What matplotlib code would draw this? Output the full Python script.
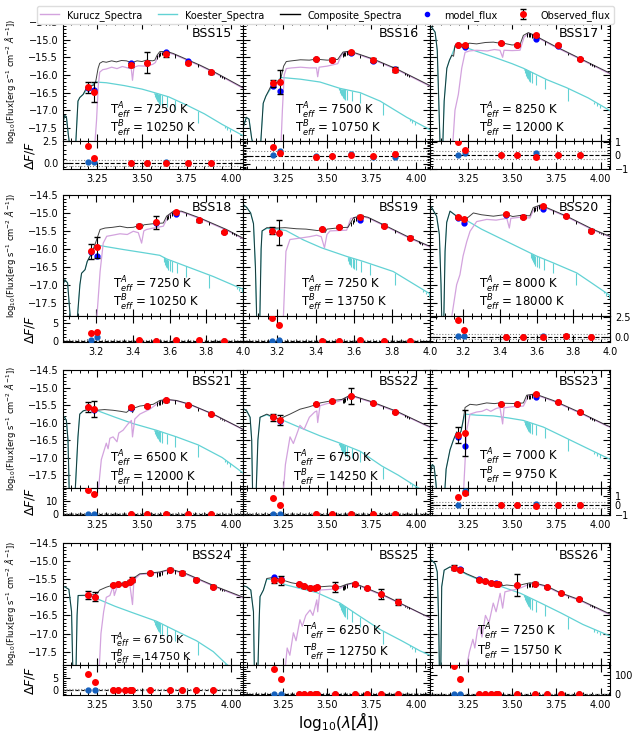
import numpy as np
import matplotlib.pyplot as plt
from matplotlib.lines import Line2D
from matplotlib.ticker import MultipleLocator, AutoMinorLocator, FixedLocator

KURUCZ_C = '#d3a3de'
KOESTER_C = '#62d2d4'

# photometric band centres, log10(lambda / A)
wave_r1 = [3.195, 3.232, 3.44, 3.53, 3.635, 3.76, 3.885]
wave_r2 = [3.17, 3.207, 3.435, 3.525, 3.635, 3.76, 3.895]
wave_r4 = [3.198, 3.238, 3.34, 3.368, 3.405, 3.432, 3.445, 3.545, 3.655, 3.725, 3.805, 3.9]
wave_bss26 = [3.173, 3.207, 3.316, 3.348, 3.38, 3.41, 3.423, 3.526, 3.63, 3.699, 3.774, 3.88]

# hydrogen lines in the hot component and in the composite
koe_line_x = [3.568, 3.572, 3.577, 3.582, 3.588, 3.594, 3.600, 3.613, 3.638, 3.687, 3.817, 3.965, 3.98, 3.995]
koe_line_depth = [0.05, 0.12, 0.18, 0.22, 0.25, 0.28, 0.3, 0.3, 0.3, 0.3, 0.35, 0.06, 0.08, 0.1]
comp_line_x = [3.587, 3.594, 3.600, 3.613, 3.638, 3.687, 3.817, 3.94, 3.95, 3.96]
comp_line_depth = [0.12, 0.12, 0.12, 0.1, 0.1, 0.1, 0.08, 0.04, 0.05, 0.05]

# ---- BSS15
bss15_obs = [-16.35, -16.48, -15.72, -15.65, -15.41, -15.65, -15.93]
bss15_err = [0.16, 0.28, 0.05, 0.3, 0.07, 0.03, 0.03]
bss15_mod = [-16.38, -16.42, -15.66, -15.65, -15.36, -15.61, -15.93]
bss15_dobs = [1.9, 0.53, -0.06, 0.0, -0.06, 0.0, 0.0]
bss15_dmod = [0.05, 0.05, 0.0, 0.0, 0.05, 0.0, 0.0]
bss15_comp = [(3.057, -17.35), (3.066, -17.15), (3.076, -17.18), (3.087, -17.7), (3.095, -18.0), (3.128, -18.0),
              (3.141, -16.74), (3.151, -16.64), (3.17, -16.55), (3.184, -16.41), (3.203, -16.32), (3.226, -16.3),
              (3.24, -16.2), (3.254, -15.81), (3.263, -15.67), (3.28, -15.62), (3.30, -15.64), (3.33, -15.6),
              (3.357, -15.63), (3.385, -15.59), (3.413, -15.6), (3.441, -15.65), (3.447, -15.74), (3.455, -15.63),
              (3.473, -15.6), (3.5, -15.62), (3.525, -15.58), (3.56, -15.6), (3.572, -15.58), (3.585, -15.44),
              (3.60, -15.34), (3.638, -15.33), (3.675, -15.39), (3.825, -15.72), (3.919, -15.95), (4.068, -16.36)]
bss15_kur = [(3.235, -18.0), (3.245, -17.3), (3.255, -16.3), (3.263, -15.92), (3.28, -15.85), (3.30, -15.83),
             (3.33, -15.78), (3.36, -15.82), (3.39, -15.76), (3.42, -15.8), (3.44, -15.82), (3.447, -16.15),
             (3.455, -15.78), (3.48, -15.74), (3.52, -15.75), (3.56, -15.7), (3.575, -15.65), (3.59, -15.48),
             (3.61, -15.38), (3.638, -15.36), (3.675, -15.41), (3.825, -15.74), (3.919, -15.97), (4.068, -16.38)]
bss15_koe = [(3.057, -17.35), (3.066, -17.15), (3.076, -17.18), (3.087, -17.7), (3.095, -18.0), (3.128, -18.0),
             (3.141, -16.74), (3.151, -16.64), (3.17, -16.55), (3.184, -16.45), (3.203, -16.38), (3.226, -16.25),
             (3.24, -16.2), (3.3, -16.22), (3.4, -16.3), (3.5, -16.4), (3.57, -16.5), (3.65, -16.62),
             (3.75, -16.85), (3.85, -17.1), (3.95, -17.4), (4.068, -17.72)]

# ---- BSS16
bss16_obs = [-16.23, -16.2, -15.55, -15.57, -15.36, -15.57, -15.85]
bss16_err = [0.1, 0.35, 0.04, 0.04, 0.04, 0.06, 0.07]
bss16_mod = [-16.3, -16.45, -15.56, -15.57, -15.38, -15.6, -15.83]
bss16_dobs = [0.54, 0.15, -0.05, -0.03, 0.05, 0.0, 0.1]
bss16_dmod = [0.04, 0.3, 0.0, 0.0, 0.1, -0.1, -0.05]
bss16_comp = [(3.026, -17.5), (3.045, -17.2), (3.06, -17.25), (3.075, -17.8), (3.085, -18.0), (3.125, -18.0),
              (3.14, -16.8), (3.155, -16.6), (3.18, -16.35), (3.2, -16.25), (3.225, -16.2), (3.24, -16.08),
              (3.255, -15.75), (3.27, -15.62), (3.3, -15.6), (3.35, -15.57), (3.4, -15.58), (3.44, -15.55),
              (3.447, -15.65), (3.455, -15.56), (3.5, -15.58), (3.535, -15.57), (3.56, -15.56), (3.575, -15.45),
              (3.59, -15.35), (3.62, -15.33), (3.65, -15.36), (3.761, -15.55), (3.893, -15.83), (4.08, -16.3)]
bss16_kur = [(3.24, -18.0), (3.248, -17.0), (3.258, -16.0), (3.27, -15.82), (3.3, -15.8), (3.35, -15.78),
             (3.4, -15.8), (3.44, -15.8), (3.447, -16.05), (3.455, -15.78), (3.5, -15.75), (3.56, -15.68),
             (3.575, -15.5), (3.59, -15.38), (3.62, -15.35), (3.65, -15.38), (3.761, -15.57), (3.893, -15.85),
             (4.08, -16.32)]
bss16_koe = [(3.026, -17.5), (3.045, -17.2), (3.06, -17.25), (3.075, -17.8), (3.085, -18.0), (3.125, -18.0),
             (3.14, -16.8), (3.155, -16.6), (3.18, -16.4), (3.2, -16.3), (3.225, -16.15), (3.24, -16.07),
             (3.35, -16.12), (3.46, -16.2), (3.573, -16.38), (3.686, -16.5), (3.799, -16.74), (3.949, -17.2),
             (4.08, -17.55)]

# ---- BSS17
bss17_obs = [-15.16, -15.16, -15.09, -15.14, -14.88, -15.16, -15.55]
bss17_err = [0.03, 0.04, 0.03, 0.03, 0.04, 0.03, 0.03]
bss17_mod = [-15.16, -15.2, -15.1, -15.14, -14.99, -15.18, -15.55]
bss17_dobs = [0.98, 0.36, 0.0, 0.0, -0.1, 0.0, 0.0]
bss17_dmod = [0.0, 0.18, 0.0, 0.0, 0.18, 0.0, 0.0]
bss17_comp = [(3.037, -14.6), (3.047, -14.65), (3.066, -14.79), (3.078, -15.3), (3.088, -17.0), (3.094, -18.0),
              (3.109, -18.0), (3.117, -16.74), (3.132, -15.81), (3.147, -15.58), (3.16, -15.44), (3.17, -15.47),
              (3.178, -15.16), (3.2, -15.14), (3.226, -15.14), (3.26, -15.1), (3.3, -15.12), (3.35, -15.08),
              (3.395, -15.07), (3.43, -15.1), (3.442, -15.14), (3.45, -15.1), (3.5, -15.15), (3.545, -15.14),
              (3.564, -14.88), (3.592, -14.8), (3.62, -14.86), (3.733, -15.16), (3.883, -15.53), (4.053, -15.95)]
bss17_kur = [(3.165, -18.0), (3.178, -17.0), (3.197, -16.55), (3.216, -15.81), (3.235, -15.36), (3.26, -15.32),
             (3.3, -15.3), (3.36, -15.32), (3.4, -15.28), (3.432, -15.3), (3.447, -15.5), (3.455, -15.3),
             (3.5, -15.31), (3.545, -15.3), (3.568, -14.93), (3.592, -14.83), (3.62, -14.88), (3.733, -15.18),
             (3.883, -15.55), (4.053, -15.97)]
bss17_koe = [(3.037, -14.6), (3.047, -14.65), (3.066, -14.79), (3.078, -15.3), (3.088, -17.0), (3.094, -18.0),
             (3.109, -18.0), (3.117, -16.74), (3.132, -15.81), (3.147, -15.58), (3.16, -15.44), (3.178, -15.2),
             (3.226, -15.2), (3.3, -15.33), (3.4, -15.5), (3.5, -15.68), (3.564, -15.81), (3.695, -16.13),
             (3.808, -16.36), (3.93, -16.65), (4.053, -17.01)]

# ---- BSS18
bss18_obs = [-16.07, -15.96, -15.35, -15.26, -14.98, -15.21, -15.54]
bss18_err = [0.2, 0.3, 0.04, 0.18, 0.03, 0.04, 0.03]
bss18_mod = [-16.09, -16.21, -15.37, -15.28, -15.04, -15.21, -15.54]
bss18_dobs = [2.3, 2.5, 0.2, 0.0, 0.1, 0.1, 0.0]
bss18_dmod = [0.2, 1.1, 0.0, 0.0, 0.0, 0.0, 0.0]
bss18_comp = [(3.02, -17.0), (3.03, -16.86), (3.045, -16.95), (3.061, -18.0), (3.097, -18.0), (3.112, -17.0),
              (3.121, -16.68), (3.14, -16.58), (3.152, -16.35), (3.176, -16.12), (3.194, -15.88), (3.222, -15.46),
              (3.249, -15.42), (3.29, -15.4), (3.33, -15.37), (3.37, -15.41), (3.403, -15.4), (3.439, -15.34),
              (3.45, -15.42), (3.46, -15.33), (3.511, -15.3), (3.566, -15.28), (3.584, -15.09), (3.621, -14.95),
              (3.665, -14.95), (3.766, -15.14), (3.91, -15.46), (4.0, -15.7)]
bss18_kur = [(3.203, -18.0), (3.222, -16.63), (3.239, -15.84), (3.258, -15.65), (3.29, -15.62), (3.33, -15.58),
             (3.37, -15.6), (3.403, -15.51), (3.43, -15.55), (3.448, -15.84), (3.46, -15.5), (3.475, -15.46),
             (3.511, -15.42), (3.566, -15.37), (3.593, -15.09), (3.621, -14.97), (3.665, -14.97), (3.766, -15.16),
             (3.91, -15.48), (4.0, -15.72)]
bss18_koe = [(3.02, -17.0), (3.03, -16.86), (3.045, -16.95), (3.061, -18.0), (3.097, -18.0), (3.112, -17.0),
             (3.121, -16.68), (3.14, -16.58), (3.152, -16.35), (3.176, -16.12), (3.194, -15.95), (3.222, -15.91),
             (3.35, -16.02), (3.45, -16.1), (3.547, -16.18), (3.584, -16.28), (3.693, -16.49), (3.838, -16.77),
             (3.965, -17.05), (4.0, -17.12)]

# ---- BSS19
bss19_obs = [-15.49, -15.55, -15.44, -15.4, -15.1, -15.35, -15.69]
bss19_err = [0.1, 0.35, 0.03, 0.03, 0.04, 0.03, 0.04]
bss19_mod = [-15.5, -15.55, -15.44, -15.4, -15.2, -15.35, -15.69]
bss19_dobs = [6.3, 4.5, 0.0, 0.0, 0.1, 0.0, 0.0]
bss19_dmod = [0.0, 0.3, 0.0, 0.0, 0.0, 0.0, 0.0]
bss19_comp = [(3.02, -14.76), (3.04, -14.85), (3.06, -15.0), (3.075, -15.3), (3.085, -16.5), (3.092, -18.0),
              (3.108, -18.0), (3.115, -16.0), (3.12, -15.5), (3.145, -15.41), (3.2, -15.42), (3.24, -15.41),
              (3.3, -15.44), (3.35, -15.45), (3.41, -15.49), (3.441, -15.46), (3.45, -15.55), (3.46, -15.45),
              (3.528, -15.41), (3.57, -15.4), (3.6, -15.13), (3.64, -15.08), (3.675, -15.12), (3.773, -15.37),
              (3.895, -15.69), (4.0, -15.93)]
bss19_kur = [(3.231, -18.0), (3.245, -16.07), (3.266, -15.74), (3.319, -15.7), (3.37, -15.66), (3.406, -15.62),
             (3.43, -15.66), (3.447, -15.97), (3.46, -15.6), (3.476, -15.5), (3.563, -15.48), (3.585, -15.15),
             (3.64, -15.1), (3.675, -15.14), (3.773, -15.39), (3.895, -15.71), (4.0, -15.95)]
bss19_koe = [(3.02, -14.76), (3.04, -14.85), (3.06, -15.0), (3.075, -15.3), (3.085, -16.5), (3.092, -18.0),
             (3.108, -18.0), (3.115, -16.0), (3.12, -15.5), (3.145, -15.43), (3.2, -15.45), (3.245, -15.49),
             (3.336, -15.75), (3.431, -15.97), (3.563, -16.21), (3.65, -16.35), (3.807, -16.63), (3.98, -17.19),
             (4.0, -17.25)]

# ---- BSS20
bss20_obs = [-15.12, -15.16, -15.04, -15.1, -14.81, -15.09, -15.49]
bss20_err = [0.03, 0.03, 0.03, 0.03, 0.03, 0.03, 0.03]
bss20_mod = [-15.13, -15.28, -15.05, -15.1, -14.9, -15.09, -15.49]
bss20_dobs = [2.1, 0.84, 0.0, 0.0, 0.0, 0.05, -0.05]
bss20_dmod = [0.1, 0.1, 0.0, 0.0, 0.15, 0.05, 0.0]
bss20_comp = [(3.02, -14.8), (3.029, -14.85), (3.056, -15.09), (3.071, -15.6), (3.08, -17.0), (3.084, -18.0),
              (3.095, -18.0), (3.102, -16.07), (3.111, -15.26), (3.129, -14.95), (3.165, -15.09), (3.201, -15.16),
              (3.228, -15.12), (3.256, -15.0), (3.3, -15.05), (3.365, -15.09), (3.438, -15.04), (3.47, -15.1),
              (3.51, -15.07), (3.564, -15.08), (3.582, -14.85), (3.619, -14.78), (3.655, -14.85), (3.764, -15.09),
              (3.909, -15.46), (4.0, -15.65)]
bss20_kur = [(3.135, -18.0), (3.15, -17.5), (3.165, -17.0), (3.183, -16.72), (3.2, -16.2), (3.22, -15.8),
             (3.238, -15.51), (3.274, -15.24), (3.329, -15.18), (3.38, -15.2), (3.438, -15.15), (3.452, -15.42),
             (3.46, -15.15), (3.51, -15.12), (3.564, -15.14), (3.582, -14.93), (3.619, -14.8), (3.655, -14.87),
             (3.764, -15.11), (3.909, -15.48), (4.0, -15.67)]
bss20_koe = [(3.02, -14.8), (3.029, -14.85), (3.056, -15.09), (3.071, -15.6), (3.08, -17.0), (3.084, -18.0),
             (3.095, -18.0), (3.102, -16.07), (3.111, -15.26), (3.129, -14.95), (3.165, -15.09), (3.183, -15.1),
             (3.3, -15.45), (3.42, -15.75), (3.528, -16.02), (3.6, -16.2), (3.691, -16.39), (3.819, -16.67),
             (3.9, -16.95), (4.0, -17.3)]

# ---- BSS21
bss21_obs = [-15.56, -15.62, -15.57, -15.53, -15.37, -15.51, -15.76]
bss21_err = [0.14, 0.23, 0.03, 0.03, 0.03, 0.03, 0.03]
bss21_mod = [-15.56, -15.65, -15.58, -15.53, -15.35, -15.51, -15.76]
bss21_dobs = [18.9, 16.0, 0.0, 0.0, 0.0, 0.0, 0.0]
bss21_dmod = [0.0, 0.0, 0.0, 0.0, 0.0, 0.0, 0.0]
bss21_comp = [(3.057, -15.8), (3.066, -15.85), (3.076, -15.94), (3.085, -16.5), (3.092, -18.0), (3.125, -18.0),
              (3.141, -16.41), (3.151, -15.76), (3.17, -15.67), (3.2, -15.62), (3.244, -15.65), (3.29, -15.63),
              (3.338, -15.65), (3.38, -15.68), (3.413, -15.71), (3.44, -15.6), (3.447, -15.72), (3.46, -15.58),
              (3.488, -15.53), (3.563, -15.48), (3.6, -15.37), (3.638, -15.34), (3.694, -15.37), (3.769, -15.48),
              (3.9, -15.76), (4.07, -16.2)]
bss21_kur = [(3.254, -18.0), (3.272, -17.06), (3.3, -16.59), (3.31, -16.75), (3.32, -16.45), (3.338, -16.41),
             (3.36, -16.55), (3.37, -16.3), (3.394, -16.22), (3.42, -16.05), (3.441, -15.94), (3.447, -16.41),
             (3.46, -15.9), (3.488, -15.76), (3.544, -15.62), (3.581, -15.48), (3.619, -15.36), (3.638, -15.35),
             (3.694, -15.38), (3.769, -15.49), (3.9, -15.77), (4.07, -16.21)]
bss21_koe = [(3.057, -15.8), (3.066, -15.85), (3.076, -15.94), (3.085, -16.5), (3.092, -18.0), (3.125, -18.0),
             (3.141, -16.41), (3.151, -15.76), (3.17, -15.67), (3.2, -15.62), (3.244, -15.65), (3.35, -15.85),
             (3.45, -16.03), (3.581, -16.22), (3.694, -16.41), (3.816, -16.64), (3.95, -17.0), (4.07, -17.45)]

# ---- BSS22
bss22_obs = [-15.85, -15.93, -15.46, -15.39, -15.25, -15.45, -15.69]
bss22_err = [0.1, 0.15, 0.03, 0.03, 0.23, 0.03, 0.03]
bss22_mod = [-15.85, -15.95, -15.46, -15.39, -15.25, -15.45, -15.69]
bss22_dobs = [13.1, 7.1, 0.0, 0.0, 0.0, 0.0, 0.0]
bss22_dmod = [0.0, 0.0, 0.0, 0.0, 0.0, 0.0, 0.0]
bss22_comp = [(3.026, -15.6), (3.047, -15.67), (3.066, -15.85), (3.075, -16.5), (3.08, -18.0), (3.1, -18.0),
              (3.11, -16.5), (3.122, -15.85), (3.16, -15.76), (3.2, -15.85), (3.235, -15.9), (3.26, -15.83),
              (3.291, -15.76), (3.347, -15.62), (3.4, -15.55), (3.442, -15.48), (3.45, -15.55), (3.46, -15.44),
              (3.535, -15.37), (3.583, -15.34), (3.63, -15.22), (3.66, -15.26), (3.742, -15.39), (3.893, -15.68),
              (4.043, -16.04), (4.08, -16.12)]
bss22_kur = [(3.253, -18.0), (3.265, -17.2), (3.291, -16.41), (3.31, -16.6), (3.347, -16.08), (3.37, -16.2),
             (3.4, -15.85), (3.43, -15.7), (3.442, -15.67), (3.447, -16.0), (3.46, -15.52), (3.5, -15.46),
             (3.56, -15.4), (3.583, -15.36), (3.63, -15.24), (3.66, -15.28), (3.742, -15.41), (3.893, -15.7),
             (4.08, -16.14)]
bss22_koe = [(3.026, -15.6), (3.047, -15.67), (3.066, -15.85), (3.075, -16.5), (3.08, -18.0), (3.1, -18.0),
             (3.11, -16.5), (3.122, -15.85), (3.16, -15.78), (3.2, -15.87), (3.235, -15.9), (3.35, -16.15),
             (3.46, -16.38), (3.573, -16.59), (3.686, -16.82), (3.808, -17.24), (3.9, -17.5), (4.006, -17.84),
             (4.08, -18.05)]

# ---- BSS23
bss23_obs = [-16.36, -16.3, -15.46, -15.46, -15.19, -15.42, -15.71]
bss23_err = [0.22, 0.67, 0.03, 0.03, 0.03, 0.03, 0.03]
bss23_mod = [-16.41, -16.67, -15.46, -15.46, -15.28, -15.42, -15.71]
bss23_dobs = [0.83, 1.27, 0.0, 0.0, -0.1, 0.0, 0.0]
bss23_dmod = [0.0, 1.5, 0.0, 0.0, 0.15, 0.0, 0.0]
bss23_comp = [(3.037, -17.5), (3.05, -17.2), (3.06, -17.25), (3.07, -17.7), (3.075, -18.0), (3.12, -18.0),
              (3.128, -17.33), (3.15, -16.78), (3.169, -16.5), (3.188, -16.27), (3.2, -16.35), (3.212, -16.25),
              (3.222, -16.0), (3.235, -15.57), (3.263, -15.48), (3.3, -15.5), (3.357, -15.44), (3.4, -15.46),
              (3.432, -15.44), (3.447, -15.5), (3.46, -15.45), (3.526, -15.46), (3.564, -15.44), (3.583, -15.22),
              (3.62, -15.19), (3.65, -15.22), (3.733, -15.37), (3.883, -15.71), (4.034, -16.08), (4.053, -16.12)]
bss23_kur = [(3.226, -18.0), (3.244, -16.22), (3.263, -15.76), (3.3, -15.7), (3.33, -15.68), (3.357, -15.62),
             (3.38, -15.68), (3.41, -15.6), (3.432, -15.57), (3.447, -16.04), (3.455, -15.58), (3.5, -15.55),
             (3.564, -15.53), (3.592, -15.24), (3.62, -15.2), (3.65, -15.24), (3.733, -15.39), (3.883, -15.73),
             (4.053, -16.14)]
bss23_koe = [(3.037, -17.5), (3.05, -17.2), (3.06, -17.25), (3.07, -17.7), (3.075, -18.0), (3.12, -18.0),
             (3.128, -17.33), (3.15, -16.78), (3.169, -16.5), (3.188, -16.27), (3.2, -16.35), (3.212, -16.25),
             (3.222, -16.0), (3.235, -15.76), (3.3, -15.79), (3.395, -15.81), (3.48, -15.87), (3.564, -15.94),
             (3.677, -16.13), (3.808, -16.45), (3.93, -16.75), (4.053, -17.05)]

# ---- BSS24
bss24_obs = [-15.94, -15.98, -15.66, -15.64, -15.62, -15.57, -15.51, -15.33, -15.24, -15.33, -15.51, -15.71]
bss24_err = [0.12, 0.12, 0.04, 0.03, 0.03, 0.04, 0.06, 0.04, 0.04, 0.06, 0.04, 0.04]
bss24_mod = [-15.95, -15.99, -15.66, -15.64, -15.62, -15.57, -15.51, -15.33, -15.25, -15.33, -15.51, -15.71]
bss24_dobs = [6.9, 3.5, 0.0, 0.0, 0.0, 0.0, 0.0, 0.0, 0.0, 0.0, 0.0, 0.0]
bss24_dmod = [0.0] * 12
bss24_comp = [(3.057, -15.7), (3.066, -15.71), (3.09, -15.78), (3.105, -16.4), (3.112, -18.0), (3.13, -18.0),
              (3.136, -16.5), (3.142, -15.95), (3.2, -15.94), (3.244, -15.92), (3.263, -15.8), (3.3, -15.72),
              (3.338, -15.66), (3.36, -15.7), (3.38, -15.63), (3.413, -15.6), (3.44, -15.55), (3.447, -15.62),
              (3.45, -15.48), (3.488, -15.35), (3.544, -15.33), (3.6, -15.3), (3.638, -15.25), (3.675, -15.24),
              (3.75, -15.35), (3.825, -15.51), (3.919, -15.71), (4.07, -16.0)]
bss24_kur = [(3.26, -18.0), (3.27, -17.0), (3.285, -16.4), (3.3, -16.0), (3.32, -15.95), (3.338, -15.7),
             (3.345, -15.95), (3.36, -15.72), (3.38, -15.66), (3.413, -15.62), (3.43, -15.58), (3.447, -16.2),
             (3.455, -15.52), (3.488, -15.37), (3.544, -15.35), (3.6, -15.32), (3.638, -15.27), (3.675, -15.26),
             (3.75, -15.37), (3.825, -15.53), (3.919, -15.73), (4.07, -16.02)]
bss24_koe = [(3.057, -15.7), (3.066, -15.71), (3.09, -15.78), (3.105, -16.4), (3.112, -18.0), (3.13, -18.0),
             (3.136, -16.5), (3.142, -15.95), (3.2, -15.95), (3.263, -16.07), (3.35, -16.25), (3.45, -16.43),
             (3.581, -16.66), (3.713, -16.98), (3.806, -17.2), (3.9, -17.5), (3.975, -17.85), (4.07, -18.2)]

# ---- BSS25
bss25_obs = [-15.53, -15.53, -15.64, -15.7, -15.73, -15.74, -15.72, -15.71, -15.64, -15.75, -15.91, -16.12]
bss25_err = [0.07, 0.12, 0.03, 0.03, 0.03, 0.03, 0.03, 0.13, 0.03, 0.03, 0.13, 0.08]
bss25_mod = [-15.45, -15.5, -15.64, -15.7, -15.73, -15.74, -15.72, -15.71, -15.64, -15.75, -15.91, -16.12]
bss25_dobs = [11.0, 6.6, 0.0, 0.0, 0.0, 0.0, 0.0, 0.0, 0.0, 0.0, 0.0, 0.0]
bss25_dmod = [0.0] * 12
bss25_comp = [(3.026, -15.68), (3.047, -15.71), (3.07, -15.8), (3.085, -16.4), (3.09, -18.0), (3.11, -18.0),
              (3.118, -16.5), (3.122, -15.98), (3.141, -15.8), (3.16, -15.48), (3.197, -15.45), (3.253, -15.53),
              (3.3, -15.6), (3.347, -15.64), (3.4, -15.72), (3.442, -15.75), (3.46, -15.71), (3.516, -15.69),
              (3.573, -15.71), (3.61, -15.64), (3.648, -15.6), (3.704, -15.71), (3.837, -15.98), (4.043, -16.48),
              (4.08, -16.55)]
bss25_kur = [(3.263, -18.0), (3.275, -17.4), (3.29, -17.6), (3.31, -16.98), (3.325, -17.2), (3.347, -16.62),
             (3.36, -16.8), (3.38, -16.5), (3.404, -16.35), (3.42, -16.5), (3.442, -16.07), (3.447, -16.4),
             (3.46, -15.8), (3.52, -15.78), (3.573, -15.75), (3.61, -15.66), (3.648, -15.62), (3.704, -15.73),
             (3.837, -16.0), (4.08, -16.57)]
bss25_koe = [(3.026, -15.68), (3.047, -15.71), (3.07, -15.8), (3.085, -16.4), (3.09, -18.0), (3.11, -18.0),
             (3.118, -16.5), (3.122, -15.98), (3.141, -15.8), (3.16, -15.5), (3.197, -15.51), (3.27, -15.66),
             (3.442, -15.87), (3.573, -16.16), (3.686, -16.53), (3.799, -16.89), (3.92, -17.2), (4.024, -17.48),
             (4.08, -17.6)]

# ---- BSS26
bss26_obs = [-15.18, -15.24, -15.51, -15.55, -15.6, -15.62, -15.62, -15.66, -15.62, -15.71, -15.87, -16.05]
bss26_err = [0.06, 0.04, 0.03, 0.03, 0.03, 0.03, 0.03, 0.3, 0.04, 0.03, 0.03, 0.03]
bss26_mod = [-15.18, -15.23, -15.49, -15.55, -15.6, -15.61, -15.62, -15.66, -15.62, -15.71, -15.87, -16.05]
bss26_dobs = [149.0, 82.0, 0.0, 0.0, 0.0, 0.0, 0.0, 0.0, 0.0, 0.0, 0.0, 0.0]
bss26_dmod = [0.0] * 12
bss26_comp = [(3.037, -14.95), (3.047, -14.98), (3.066, -15.07), (3.078, -15.3), (3.085, -16.5), (3.09, -18.0),
              (3.098, -18.0), (3.103, -15.71), (3.117, -15.25), (3.15, -15.16), (3.188, -15.21), (3.244, -15.35),
              (3.32, -15.51), (3.37, -15.56), (3.414, -15.62), (3.44, -15.6), (3.447, -15.68), (3.47, -15.66),
              (3.526, -15.69), (3.564, -15.64), (3.601, -15.6), (3.64, -15.62), (3.696, -15.69), (3.771, -15.87),
              (3.883, -16.07), (4.053, -16.46)]
bss26_kur = [(3.24, -18.0), (3.26, -17.5), (3.279, -17.16), (3.29, -17.4), (3.305, -16.9), (3.317, -16.8),
             (3.33, -17.1), (3.35, -16.5), (3.37, -16.7), (3.394, -16.16), (3.41, -16.4), (3.433, -15.89),
             (3.447, -16.3), (3.46, -15.85), (3.5, -15.8), (3.529, -15.78), (3.587, -15.66), (3.62, -15.62),
             (3.64, -15.64), (3.696, -15.71), (3.771, -15.89), (3.883, -16.09), (4.053, -16.48)]
bss26_koe = [(3.037, -14.95), (3.047, -14.98), (3.066, -15.07), (3.078, -15.3), (3.085, -16.5), (3.09, -18.0),
             (3.098, -18.0), (3.103, -15.71), (3.117, -15.25), (3.15, -15.16), (3.188, -15.22), (3.244, -15.37),
             (3.32, -15.53), (3.414, -15.66), (3.548, -15.89), (3.663, -16.16), (3.779, -16.44), (3.9, -16.75),
             (4.053, -17.07)]

names = ['BSS15', 'BSS16', 'BSS17', 'BSS18', 'BSS19', 'BSS20',
         'BSS21', 'BSS22', 'BSS23', 'BSS24', 'BSS25', 'BSS26']
teff_a = [7250, 7500, 8250, 7250, 7250, 8000, 6500, 6750, 7000, 6750, 6250, 7250]
teff_b = [10250, 10750, 12000, 10250, 13750, 18000, 12000, 14250, 9750, 14750, 12750, 15750]

panels = [
    (wave_r1, bss15_obs, bss15_err, bss15_mod, bss15_dobs, bss15_dmod, bss15_comp, bss15_kur, bss15_koe),
    (wave_r1, bss16_obs, bss16_err, bss16_mod, bss16_dobs, bss16_dmod, bss16_comp, bss16_kur, bss16_koe),
    (wave_r1, bss17_obs, bss17_err, bss17_mod, bss17_dobs, bss17_dmod, bss17_comp, bss17_kur, bss17_koe),
    (wave_r2, bss18_obs, bss18_err, bss18_mod, bss18_dobs, bss18_dmod, bss18_comp, bss18_kur, bss18_koe),
    (wave_r2, bss19_obs, bss19_err, bss19_mod, bss19_dobs, bss19_dmod, bss19_comp, bss19_kur, bss19_koe),
    (wave_r2, bss20_obs, bss20_err, bss20_mod, bss20_dobs, bss20_dmod, bss20_comp, bss20_kur, bss20_koe),
    (wave_r1, bss21_obs, bss21_err, bss21_mod, bss21_dobs, bss21_dmod, bss21_comp, bss21_kur, bss21_koe),
    (wave_r1, bss22_obs, bss22_err, bss22_mod, bss22_dobs, bss22_dmod, bss22_comp, bss22_kur, bss22_koe),
    (wave_r1, bss23_obs, bss23_err, bss23_mod, bss23_dobs, bss23_dmod, bss23_comp, bss23_kur, bss23_koe),
    (wave_r4, bss24_obs, bss24_err, bss24_mod, bss24_dobs, bss24_dmod, bss24_comp, bss24_kur, bss24_koe),
    (wave_r4, bss25_obs, bss25_err, bss25_mod, bss25_dobs, bss25_dmod, bss25_comp, bss25_kur, bss25_koe),
    (wave_bss26, bss26_obs, bss26_err, bss26_mod, bss26_dobs, bss26_dmod, bss26_comp, bss26_kur, bss26_koe),
]

# layout (pixels of a 639 x 734 canvas)
W, H = 639, 734
col_x = [63, 243, 430]
col_w = [180, 187, 180]
row_y = [(22, 141, 169), (195, 316, 342), (370, 488, 515), (543, 665, 695)]
xlims_wide = [(3.057, 4.067), (3.026, 4.08), (3.037, 4.053)]
xlims_r2 = [(3.02, 4.0), (3.02, 4.0), (3.02, 4.0)]
res_ylims = [(-0.7, 2.5), (-0.85, 0.95), (-1.0, 1.05),
             (-0.4, 7.0), (-0.4, 7.0), (-0.66, 2.6),
             (-1.1, 20.9), (-1.1, 20.9), (-1.0, 1.8),
             (-2.35, 10.9), (-0.4, 12.8), (-7.0, 156.0)]
res_ticks = [[0, 2.5], [-0.5, 0, 0.5], [-1, 0, 1],
             [0, 5], [0, 5], [0, 2.5],
             [0, 10], [0, 10], [-1, 0, 1],
             [0, 5], [0, 5, 10], [0, 100]]
text_pos = [(0.26, 0.25, 0.105), (0.28, 0.25, 0.105), (0.27, 0.25, 0.1),
            (0.28, 0.255, 0.11), (0.31, 0.255, 0.11), (0.27, 0.255, 0.11),
            (0.26, 0.245, 0.085), (0.27, 0.245, 0.085), (0.27, 0.26, 0.1),
            (0.26, 0.2, 0.06), (0.32, 0.27, 0.1), (0.26, 0.27, 0.11)]


def rect(x, top, w, bottom):
    return [x / W, 1 - bottom / H, w / W, (bottom - top) / H]


def style_ticks(ax):
    ax.tick_params(which='both', direction='in', top=True, right=True, labelsize=7)
    ax.tick_params(which='major', length=5, width=0.8)
    ax.tick_params(which='minor', length=2.5, width=0.7)


fig = plt.figure(figsize=(6.39, 7.34), dpi=100)
obs_handle = None

for i, (wave, obs, err, mod, dobs, dmod, comp, kur, koe) in enumerate(panels):
    r, c = divmod(i, 3)
    top, mid, bot = row_y[r]
    ax = fig.add_axes(rect(col_x[c], top, col_w[c], mid))
    ar = fig.add_axes(rect(col_x[c], mid, col_w[c], bot), sharex=ax)

    kx, ky = zip(*koe)
    ax.plot(kx, ky, color=KOESTER_C, lw=0.9)
    base = np.interp(koe_line_x, kx, ky)
    ax.vlines(koe_line_x, base - np.array(koe_line_depth), base, color=KOESTER_C, lw=0.8)
    ux, uy = zip(*kur)
    ax.plot(ux, uy, color=KURUCZ_C, lw=0.9)
    cx, cy = zip(*comp)
    ax.plot(cx, cy, color='k', lw=0.7, alpha=0.75)
    base = np.interp(comp_line_x, cx, cy)
    ax.vlines(comp_line_x, base - np.array(comp_line_depth), base, color='k', lw=0.7)

    ax.plot(wave, mod, 'o', color='blue', ms=3.5, zorder=4)
    eb = ax.errorbar(wave, obs, yerr=err, fmt='o', color='red', ms=4, ecolor='k',
                     elinewidth=0.8, capsize=2, zorder=5)
    if obs_handle is None:
        obs_handle = eb

    ax.set_xlim(xlims_r2[c] if r == 1 else xlims_wide[c])
    ax.set_ylim(-17.87, -14.5)
    ax.yaxis.set_major_locator(MultipleLocator(0.5))
    ax.yaxis.set_minor_locator(MultipleLocator(0.1))
    ax.xaxis.set_major_locator(MultipleLocator(0.2 if r == 1 else 0.25))
    ax.xaxis.set_minor_locator(AutoMinorLocator())
    style_ticks(ax)
    ax.tick_params(labelbottom=False, labelleft=(c == 0))

    ax.text(0.94, 0.9, names[i], transform=ax.transAxes, ha='right', va='center', fontsize=9)
    fs = 8 if i == 9 else 8.5
    tx, ty1, ty2 = text_pos[i]
    ax.text(tx, ty1, 'T$^{A}_{eff}$ = %d K' % teff_a[i], transform=ax.transAxes,
            va='center', fontsize=fs)
    ax.text(tx, ty2, 'T$^{B}_{eff}$ = %d K' % teff_b[i], transform=ax.transAxes,
            va='center', fontsize=fs)

    # residual strip
    ar.axhline(0, color='k', ls='--', lw=0.8)
    ar.axhline(0.3, color='grey', ls=':', lw=0.8)
    ar.axhline(-0.3, color='grey', ls=':', lw=0.8)
    ar.plot(wave, dmod, 'o', color='#1560bd', ms=3.5, zorder=3)
    ar.plot(wave, dobs, 'o', color='red', ms=4, zorder=4)
    ar.set_ylim(res_ylims[i])
    ar.yaxis.set_major_locator(FixedLocator(res_ticks[i]))
    ar.yaxis.set_minor_locator(AutoMinorLocator())
    style_ticks(ar)
    ar.tick_params(labelleft=(c == 0), labelright=(c == 2))

    if c == 0:
        ax.set_ylabel(r'log$_{10}$(Flux[erg s$^{-1}$ cm$^{-2}$ $\AA^{-1}$])', fontsize=6)
        ax.yaxis.set_label_coords(-0.25, 0.5)
        ar.set_ylabel(r'$\Delta F/F$', fontsize=9)
        ar.yaxis.set_label_coords(-0.145, 0.5)

fig.text(0.53, 0.017, r'log$_{10}$($\lambda$[$\AA$])', ha='center', va='center', fontsize=11)

handles = [Line2D([], [], color=KURUCZ_C, lw=1), Line2D([], [], color=KOESTER_C, lw=1),
           Line2D([], [], color='k', lw=1), Line2D([], [], ls='none', marker='o', color='blue', ms=3),
           obs_handle]
labels = ['Kurucz_Spectra', 'Koester_Spectra', 'Composite_Spectra', 'model_flux', 'Observed_flux']
fig.legend(handles, labels, loc='upper center', bbox_to_anchor=(0.509, 0.998), ncol=5, fontsize=7,
           handlelength=2.0, handletextpad=0.8, columnspacing=1.6, borderpad=0.35,
           edgecolor='#dddddd', framealpha=1)

fig.savefig('out.png', dpi=100)
